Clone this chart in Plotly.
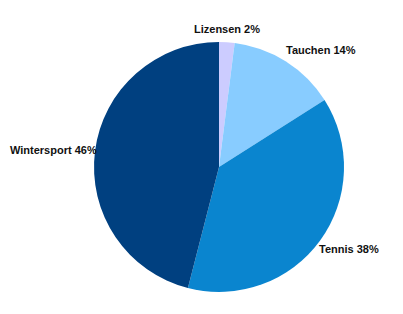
import math
import plotly.graph_objects as go

categories = ["Lizensen", "Tauchen", "Tennis", "Wintersport"]
values = [2, 14, 38, 46]
colors = ["#CCCCFF", "#88CCFF", "#0A85CF", "#004080"]

W, H = 403, 314
cx, cy, r = 219, 167, 125

fig = go.Figure(go.Pie(
    labels=categories, values=values, sort=False, direction="clockwise", rotation=0,
    marker=dict(colors=colors, line=dict(width=0)),
    textinfo="none", hoverinfo="label+percent", showlegend=False,
    domain=dict(x=[(cx - r) / W, (cx + r) / W], y=[(H - cy - r) / H, (H - cy + r) / H]),
))

total = sum(values)
annotations = []
cum = 0
for cat, v in zip(categories, values):
    mid = (cum + v / 2) / total * 2 * math.pi
    cum += v
    s, c = math.sin(mid), math.cos(mid)
    xa = "left" if s > 0.3 else ("right" if s < -0.3 else "center")
    x = cx + 0.97 * r * s
    y = cy - 1.11 * r * c
    pct = round(v / total * 100)
    annotations.append(dict(
        x=x / W, y=1 - y / H, xref="paper", yref="paper",
        text=f"<b>{cat} {pct}%</b>", showarrow=False, xanchor=xa, yanchor="middle",
        font=dict(family="Liberation Sans, Arial", size=11, color="#111111"),
    ))

fig.update_layout(
    width=W, height=H, margin=dict(l=0, r=0, t=0, b=0),
    paper_bgcolor="white", plot_bgcolor="white", annotations=annotations,
)
fig.write_html("out.html")
